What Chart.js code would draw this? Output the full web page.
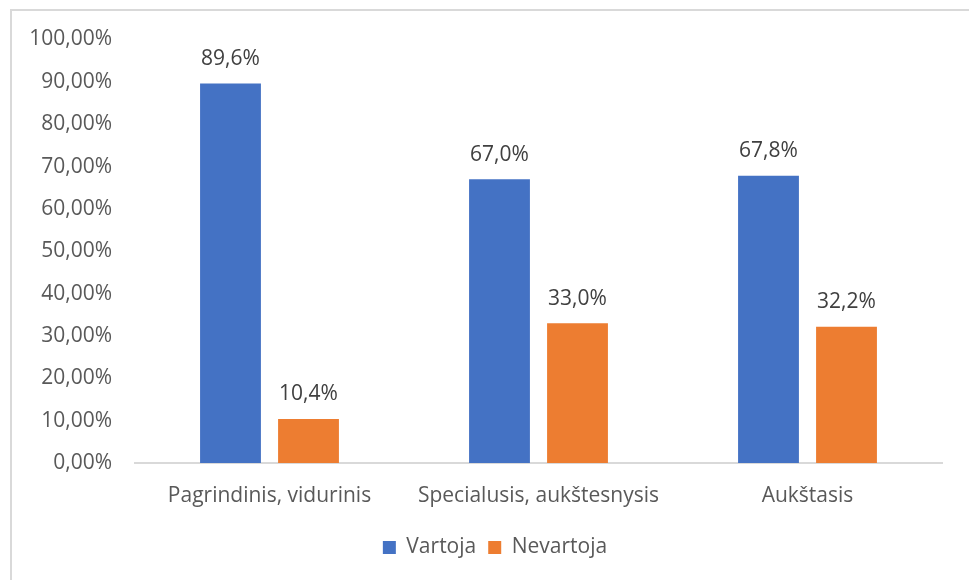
<!DOCTYPE html>
<html>
<head>
<meta charset="utf-8">
<script src="https://cdn.jsdelivr.net/npm/chart.js@4/dist/chart.umd.min.js"></script>
<style>
  html, body { margin: 0; padding: 0; background: #ffffff; }
  #wrap { position: relative; width: 969px; height: 580px; }
</style>
</head>
<body>
<div id="wrap"><canvas id="chart" width="969" height="580"></canvas></div>
<script>
// Education level categories and the share of respondents in each group
const categories = ['Pagrindinis, vidurinis', 'Specialusis, aukštesnysis', 'Aukštasis'];
const seriesNames = ['Vartoja', 'Nevartoja'];
const vartoja = [89.6, 67.0, 67.8];
const nevartoja = [10.4, 33.0, 32.2];
const seriesColors = ['#4472C4', '#ED7D31'];

const FONT = '"Open Sans", "Noto Sans", sans-serif';

const fmtTick = v => v.toFixed(2).replace('.', ',') + '%';
const fmtLabel = v => v.toFixed(1).replace('.', ',') + '%';

// Thin frame along the top and left edge of the chart box
const framePlugin = {
  id: 'frame',
  beforeDraw(chart) {
    const ctx = chart.ctx;
    ctx.save();
    ctx.strokeStyle = '#d9d9d9';
    ctx.lineWidth = 2;
    ctx.beginPath();
    ctx.moveTo(11, chart.height);
    ctx.lineTo(11, 10);
    ctx.lineTo(chart.width, 10);
    ctx.stroke();
    ctx.restore();
  }
};

// Nudge the legend so it sits centred under the middle of the plot
const legendShift = {
  id: 'legendShift',
  afterLayout(chart) {
    const lg = chart.legend;
    if (lg) { lg.left += 14; lg.right += 14; }
  }
};

// Value labels above each bar
const valueLabels = {
  id: 'valueLabels',
  afterDatasetsDraw(chart) {
    const ctx = chart.ctx;
    ctx.save();
    ctx.font = '21px ' + FONT;
    ctx.fillStyle = '#404040';
    ctx.textAlign = 'center';
    ctx.textBaseline = 'middle';
    chart.data.datasets.forEach((ds, i) => {
      chart.getDatasetMeta(i).data.forEach((bar, j) => {
        ctx.fillText(fmtLabel(ds.data[j]), bar.x, bar.y - 24.5);
      });
    });
    ctx.restore();
  }
};

new Chart(document.getElementById('chart'), {
  type: 'bar',
  data: {
    labels: categories,
    datasets: [
      { label: seriesNames[0], data: vartoja, backgroundColor: seriesColors[0] },
      { label: seriesNames[1], data: nevartoja, backgroundColor: seriesColors[1] }
    ]
  },
  options: {
    responsive: false,
    animation: false,
    devicePixelRatio: 1,
    categoryPercentage: 0.58,
    barPercentage: 0.78,
    layout: { padding: { left: 20, right: 27, top: 39.5, bottom: 12 } },
    plugins: {
      tooltip: { enabled: false },
      legend: {
        position: 'bottom',
        labels: {
          boxWidth: 13,
          boxHeight: 13,
          padding: 12,
          color: '#595959',
          font: { family: FONT, size: 21 }
        }
      }
    },
    scales: {
      x: {
        grid: { display: false, drawTicks: false },
        border: { display: true, color: '#d9d9d9', width: 2 },
        ticks: { color: '#595959', padding: 20, font: { family: FONT, size: 21 }, maxRotation: 0 },
        afterFit(scale) { scale.height = 62; }
      },
      y: {
        min: 0,
        max: 100,
        grid: { display: false, drawTicks: false },
        border: { display: false },
        ticks: {
          stepSize: 10,
          color: '#595959',
          padding: 23,
          font: { family: FONT, size: 21 },
          callback: v => fmtTick(v)
        },
        afterFit(scale) { scale.width = 115; }
      }
    }
  },
  plugins: [framePlugin, legendShift, valueLabels]
});
</script>
</body>
</html>
